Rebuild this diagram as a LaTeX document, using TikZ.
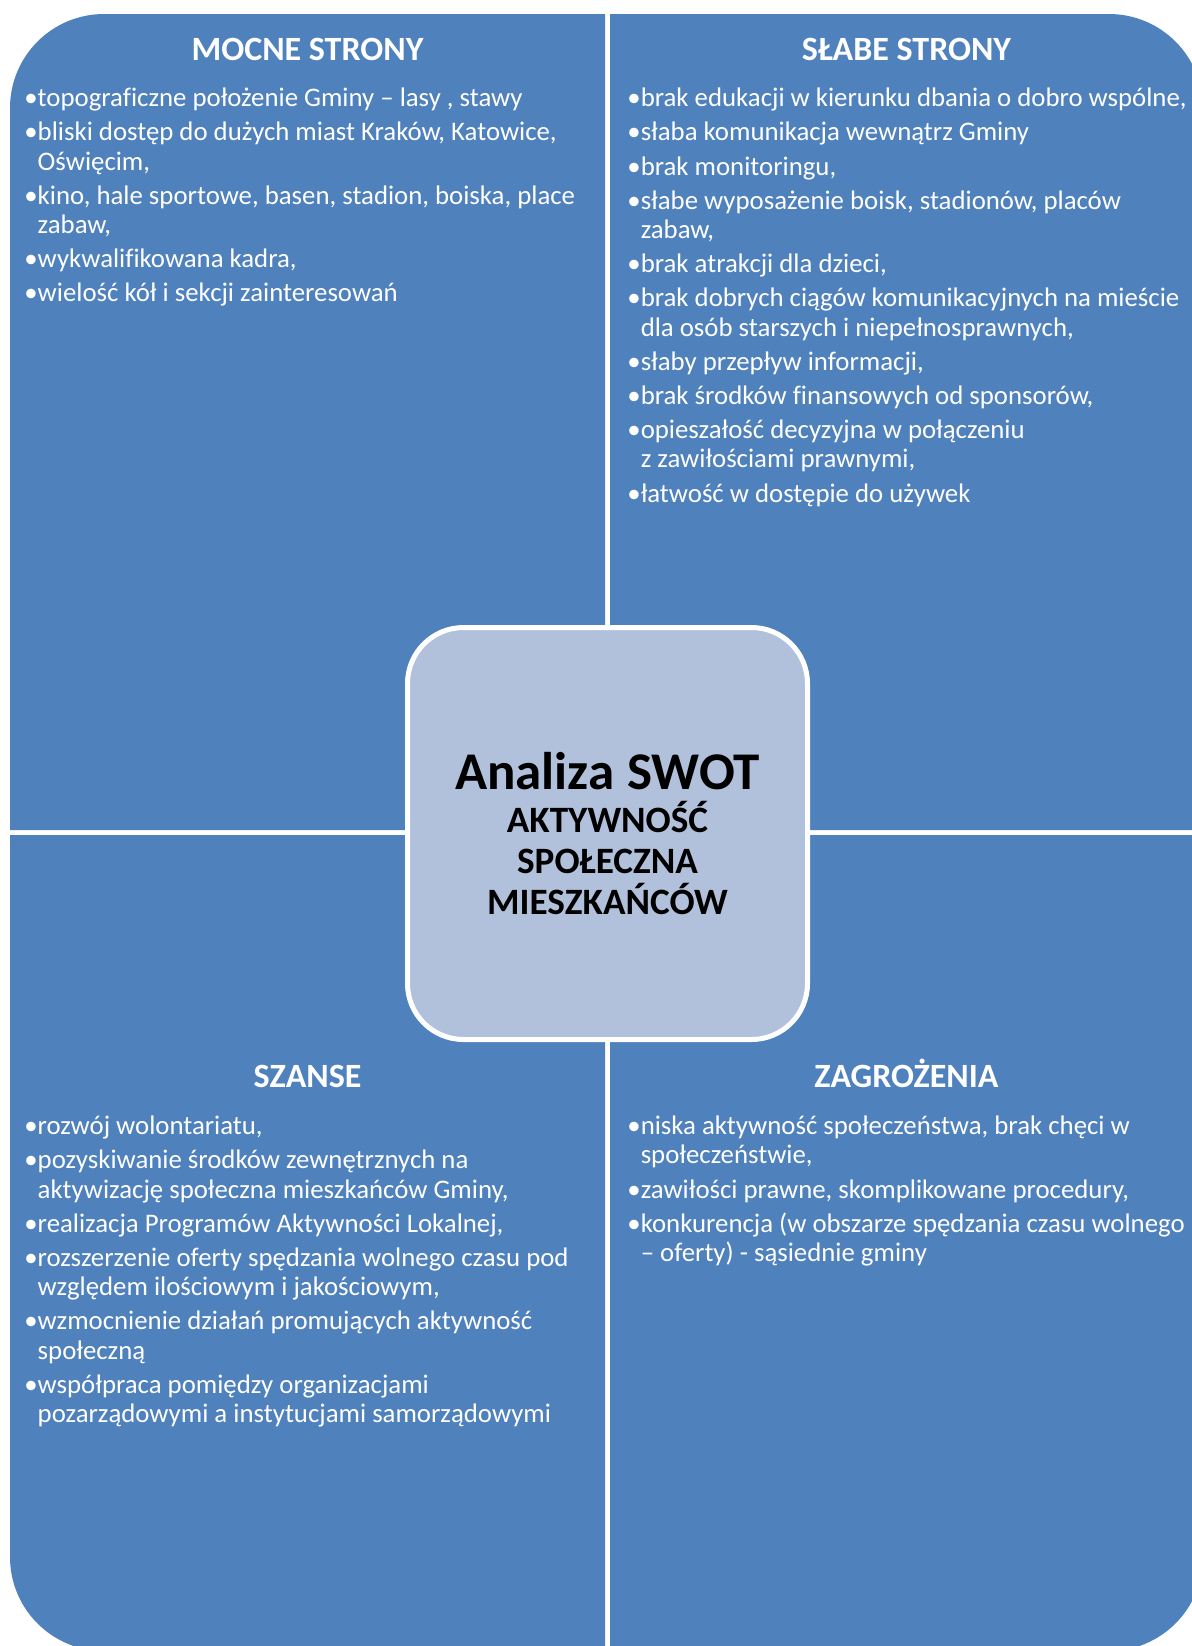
\documentclass[tikz,border=0pt]{standalone}
\usepackage{fontspec}
\setmainfont{Carlito}[Ligatures=CommonOff]
\definecolor{quadblue}{RGB}{79,129,189}
\definecolor{centrefill}{RGB}{178,193,219}
\newlength{\bulw}
\newcommand{\pkt}[1]{\par\spaceskip=0pt\xspaceskip=0pt\settowidth{\bulw}{•}\hangindent=\bulw\hangafter=1\noindent\strut•#1\par}

\begin{document}
\begin{tikzpicture}[x=0.5pt,y=-0.5pt,
  quad/.style={fill=quadblue},
  head/.style={anchor=base,text=white,inner sep=0pt,font=\fontsize{17}{20}\selectfont\bfseries},
  itemlist/.style={anchor=north west,inner sep=0pt,text=white,text width=285pt,align=left,
    font=\fontsize{13.4}{14.6}\selectfont\setlength{\parskip}{2.5pt}},
  centre/.style={draw=white,line width=2.5pt,fill=centrefill,rounded corners=28pt,
    minimum width=200pt,minimum height=206pt,text width=190pt,align=center,inner sep=0pt}]
  \useasboundingbox (0,0) rectangle (1192,1646);

  % Quadrants
  \fill[quad] (10,830) -- (10,400) [rounded corners=47pt] -- (10,14) -- (300,14) [sharp corners] -- (605,14) -- (605,830) -- cycle;
  \fill[quad] (610,830) -- (610,14) -- (900,14) [rounded corners=47pt] -- (1203,14) -- (1203,400) [sharp corners] -- (1203,830) -- cycle;
  \fill[quad] (605,835) -- (10,835) -- (10,1300) [rounded corners=47pt] -- (10,1651) -- (300,1651) [sharp corners] -- (605,1651) -- cycle;
  \fill[quad] (610,835) -- (1203,835) -- (1203,1300) [rounded corners=47pt] -- (1203,1651) -- (900,1651) [sharp corners] -- (610,1651) -- cycle;

  % Headings
  \node[head] (strong) at (307.5,60) {MOCNE STRONY};
  \node[head] (weak) at (906.5,60) {SŁABE STRONY};
  \node[head] (chance) at (307.5,1087) {SZANSE};
  \node[head] (threat) at (906.5,1087) {ZAGROŻENIA};

  % Lists
  \node[itemlist] (strong-list) at (24,72) {%
    \pkt{topograficzne położenie Gminy – lasy , stawy}
    \pkt{bliski dostęp do dużych miast Kraków, Katowice,\newline Oświęcim,}
    \pkt{kino, hale sportowe, basen, stadion, boiska, place\newline zabaw,}
    \pkt{wykwalifikowana kadra,}
    \pkt{wielość kół i sekcji zainteresowań}};
  \node[itemlist] (weak-list) at (627,72) {%
    \pkt{brak edukacji w kierunku dbania o dobro wspólne,}
    \pkt{słaba komunikacja wewnątrz Gminy}
    \pkt{brak monitoringu,}
    \pkt{słabe wyposażenie boisk, stadionów, placów\newline zabaw,}
    \pkt{brak atrakcji dla dzieci,}
    \pkt{brak dobrych ciągów komunikacyjnych na mieście\newline dla osób starszych i niepełnosprawnych,}
    \pkt{słaby przepływ informacji,}
    \pkt{brak środków finansowych od sponsorów,}
    \pkt{opieszałość decyzyjna w połączeniu\newline z zawiłościami prawnymi,}
    \pkt{łatwość w dostępie do używek}};
  \node[itemlist] (chance-list) at (24,1100) {%
    \pkt{rozwój wolontariatu,}
    \pkt{pozyskiwanie środków zewnętrznych na\newline aktywizację społeczna mieszkańców Gminy,}
    \pkt{realizacja Programów Aktywności Lokalnej,}
    \pkt{rozszerzenie oferty spędzania wolnego czasu pod\newline względem ilościowym i jakościowym,}
    \pkt{wzmocnienie działań promujących aktywność\newline społeczną}
    \pkt{współpraca pomiędzy organizacjami\newline pozarządowymi a instytucjami samorządowymi}};
  \node[itemlist] (threat-list) at (627,1100) {%
    \pkt{niska aktywność społeczeństwa, brak chęci w\newline społeczeństwie,}
    \pkt{zawiłości prawne, skomplikowane procedury,}
    \pkt{konkurencja (w obszarze spędzania czasu wolnego\newline – oferty) - sąsiednie gminy}};

  % Centre
  \node[centre] (swot) at (607.5,833.5) {%
    {\fontsize{26.5}{31}\selectfont\bfseries Analiza\hspace{3pt} SWOT\par}\vspace{1pt}
    {\fontsize{18.6}{20.5}\selectfont\bfseries AKTYWNOŚĆ\\SPOŁECZNA\\MIESZKAŃCÓW\par}};
\end{tikzpicture}
\end{document}
